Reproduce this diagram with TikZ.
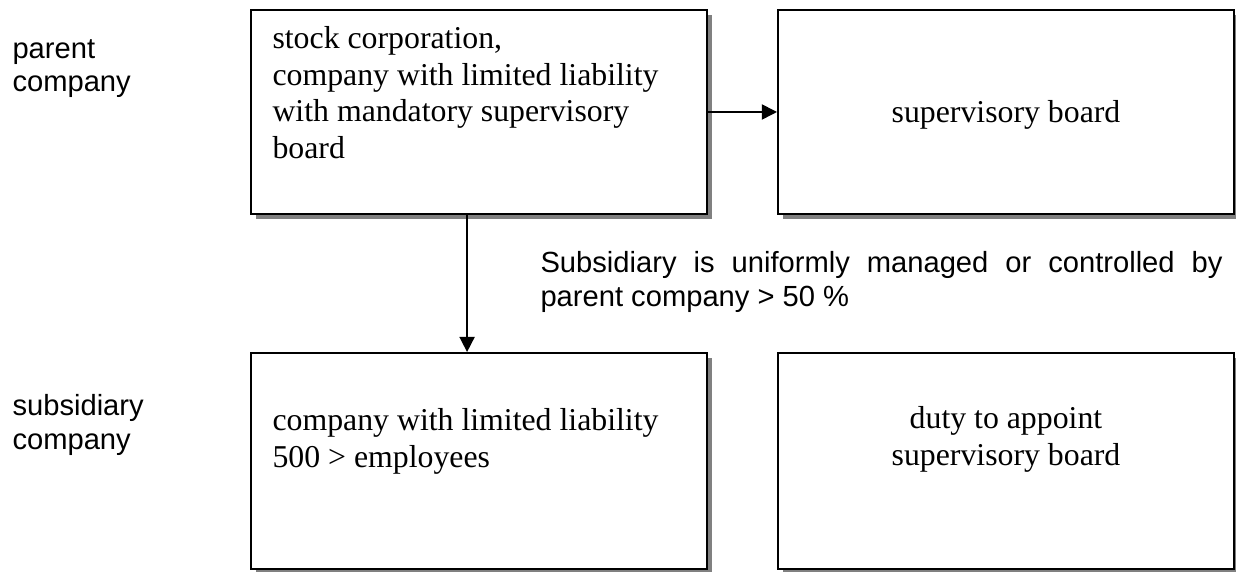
\documentclass[tikz,border=0pt]{standalone}
\usepackage{fontspec}
\setmainfont{Liberation Serif}
\setsansfont{Liberation Sans}
\usetikzlibrary{positioning, arrows.meta, shadows}
\hyphenpenalty=10000
\exhyphenpenalty=10000
\tolerance=10000

\tikzset{
  box/.style={draw, line width=0.75pt, fill=white, minimum width=172.1pt, inner sep=0pt,
    drop shadow={shadow xshift=1.9pt, shadow yshift=-1.9pt, fill=black!50, opacity=1}},
  boxtxt/.style={font=\fontsize{12}{13.8}\selectfont, inner sep=0pt},
  sidetxt/.style={font=\sffamily\fontsize{11}{12.65}\selectfont, inner sep=0pt, align=left, anchor=north west},
  link/.style={line width=0.6pt, -{Triangle[length=5.7pt,width=5.7pt]}}
}

\begin{document}
\begin{tikzpicture}[x=0.3774pt, y=-0.3774pt]
\useasboundingbox (0,0) rectangle (1236,572);

\node[box, minimum height=77pt] (parentbox) at (479,112) {};
\node[box, minimum height=77pt] (boardbox) at (1006,112) {};
\node[box, minimum height=81.5pt] (subbox) at (479,461) {};
\node[box, minimum height=81.5pt] (dutybox) at (1006,461) {};

\node[boxtxt, align=left, anchor=north west] (parenttxt) at (272,26)
  {stock corporation,\\company with limited liability\\with mandatory supervisory\\board};
\node[boxtxt, anchor=base] (boardtxt) at (1006,123) {supervisory board};
\node[boxtxt, align=left, anchor=north west] (subtxt) at (272,408)
  {company with limited liability\\500 > employees};
\node[boxtxt, align=center, anchor=north] (dutytxt) at (1006,406)
  {duty to appoint\\supervisory board};

\node[sidetxt] (parentlbl) at (12,39) {parent\\company};
\node[sidetxt] (sublbl) at (12,394) {subsidiary\\company};
\node[sidetxt, text width=257.4pt, align=justify] (note) at (540,251)
  {Subsidiary is uniformly managed or controlled by parent company > 50 \%};

\draw[link] (parentbox.east) -- (boardbox.west);
\draw[link] ([xshift=-4.5pt]parentbox.south) -- ([xshift=-4.5pt]subbox.north);
\end{tikzpicture}
\end{document}
